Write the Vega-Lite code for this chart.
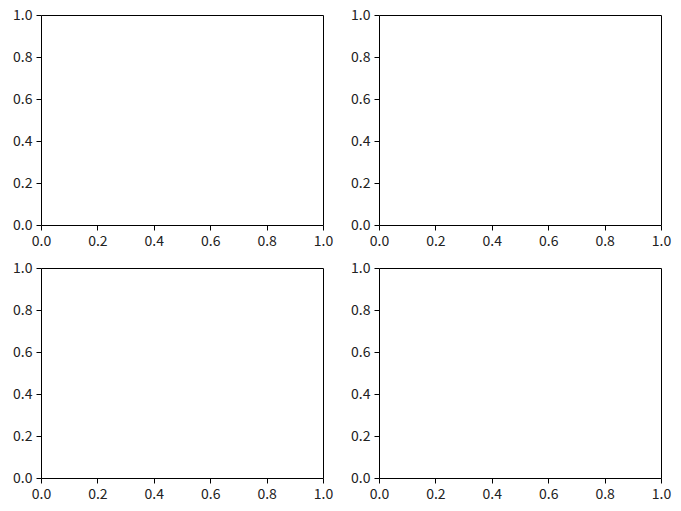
{
  "$schema": "https://vega.github.io/schema/vega-lite/v6.json",
  "background": "white",
  "autosize": {"type": "pad"},
  "padding": {"left": 12, "top": 7, "right": 0, "bottom": 0},
  "datasets": {
    "corners": [{"x": 0, "y": 0}, {"x": 1, "y": 1}]
  },
  "columns": 2,
  "spacing": {"row": 43, "column": 56},
  "bounds": "flush",
  "concat": [
    {
      "width": 282, "height": 210,
      "data": {"name": "corners"},
      "mark": {"type": "point", "opacity": 0},
      "encoding": {
        "x": {"field": "x", "type": "quantitative", "scale": {"domain": [0, 1], "nice": false, "zero": false}, "axis": {"values": [0, 0.2, 0.4, 0.6, 0.8, 1]}},
        "y": {"field": "y", "type": "quantitative", "scale": {"domain": [0, 1], "nice": false, "zero": false}, "axis": {"values": [0, 0.2, 0.4, 0.6, 0.8, 1]}}
      }
    },
    {
      "width": 282, "height": 210,
      "data": {"name": "corners"},
      "mark": {"type": "point", "opacity": 0},
      "encoding": {
        "x": {"field": "x", "type": "quantitative", "scale": {"domain": [0, 1], "nice": false, "zero": false}, "axis": {"values": [0, 0.2, 0.4, 0.6, 0.8, 1]}},
        "y": {"field": "y", "type": "quantitative", "scale": {"domain": [0, 1], "nice": false, "zero": false}, "axis": {"values": [0, 0.2, 0.4, 0.6, 0.8, 1]}}
      }
    },
    {
      "width": 282, "height": 210,
      "data": {"name": "corners"},
      "mark": {"type": "point", "opacity": 0},
      "encoding": {
        "x": {"field": "x", "type": "quantitative", "scale": {"domain": [0, 1], "nice": false, "zero": false}, "axis": {"values": [0, 0.2, 0.4, 0.6, 0.8, 1]}},
        "y": {"field": "y", "type": "quantitative", "scale": {"domain": [0, 1], "nice": false, "zero": false}, "axis": {"values": [0, 0.2, 0.4, 0.6, 0.8, 1]}}
      }
    },
    {
      "width": 282, "height": 210,
      "data": {"name": "corners"},
      "mark": {"type": "point", "opacity": 0},
      "encoding": {
        "x": {"field": "x", "type": "quantitative", "scale": {"domain": [0, 1], "nice": false, "zero": false}, "axis": {"values": [0, 0.2, 0.4, 0.6, 0.8, 1]}},
        "y": {"field": "y", "type": "quantitative", "scale": {"domain": [0, 1], "nice": false, "zero": false}, "axis": {"values": [0, 0.2, 0.4, 0.6, 0.8, 1]}}
      }
    }
  ],
  "config": {
    "view": {"stroke": "black", "strokeWidth": 1},
    "axis": {
      "title": null,
      "grid": false,
      "domain": false,
      "format": ".1f",
      "tickSize": 5,
      "tickColor": "black",
      "tickWidth": 1,
      "labelPadding": 4,
      "labelFont": "Noto Sans CJK KR",
      "labelFontSize": 14,
      "labelColor": "#222222",
      "labelFlush": false,
      "labelOverlap": false
    }
  }
}
